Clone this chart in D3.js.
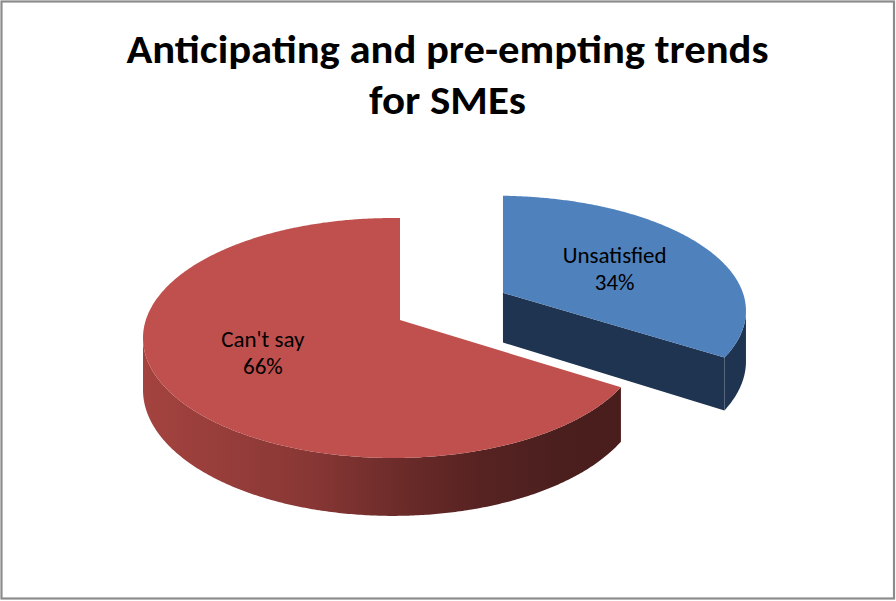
<!DOCTYPE html>
<html>
<head>
<meta charset="utf-8">
<script src="https://cdn.jsdelivr.net/npm/d3@7"></script>
<style>
  html, body { margin: 0; padding: 0; background: #fff; }
  svg { display: block; }
</style>
</head>
<body>
<svg id="chart" width="896" height="601"></svg>
<script>
// ---- data ----
const titleLines = ["Anticipating and pre-empting trends", "for SMEs"];
const categories = ["Unsatisfied", "Can't say"];
const values = [34, 66];
const explode = [0.47, 0];          // fraction of the radius each slice is pulled out
const topColors = ["#4F81BD", "#C0504D"];
const sideColors = ["#1F3450", "#6A2A28"];

// ---- layout ----
const W = 896, H = 601;
const svg = d3.select("#chart");

// frame
svg.append("rect")
  .attr("x", 1.5).attr("y", 1.5)
  .attr("width", W - 3.5).attr("height", H - 4)
  .attr("fill", "#fff")
  .attr("stroke", "#8c8c8c")
  .attr("stroke-width", 2.2);

// title
const title = svg.append("text")
  .attr("text-anchor", "middle")
  .attr("font-family", "Carlito, Calibri, Lato, sans-serif")
  .attr("font-weight", "bold")
  .attr("font-size", 41)
  .attr("fill", "#000");
const titleWidths = [642, 157];
title.selectAll("tspan").data(titleLines).join("tspan")
  .attr("x", 447.5)
  .attr("y", (d, i) => 63 + i * 51)
  .attr("textLength", (d, i) => titleWidths[i])
  .attr("lengthAdjust", "spacingAndGlyphs")
  .text(d => d);

// ---- 3D pie projection ----
const apex0 = [400, 320];           // projected pie centre
const ellOff = [-7, 18];            // centre of the rim ellipse relative to apex
const RX = 250, RY = 120;
const depth = y => 52 + (y - 340) * 0.05;   // wall height, shrinking with distance

const pie = d3.pie().sort(null).value(d => d)(values);
const total = d3.sum(values);
const pct = d3.format(".0%");

const slices = pie.map((p, i) => {
  const mid = (p.startAngle + p.endAngle) / 2;
  const e = explode[i];
  const dx = e * RX * Math.sin(mid), dy = -e * RY * Math.cos(mid);
  const A = [apex0[0] + dx, apex0[1] + dy];
  const E = [A[0] + ellOff[0], A[1] + ellOff[1]];
  const ry = RY * (1 + (E[1] - (apex0[1] + ellOff[1])) * 0.0015);
  return { i, a0: p.startAngle, a1: p.endAngle, mid, A, E, rx: RX, ry };
});

// point on the rim of a slice at pie angle th (0 = 12 o'clock, clockwise)
function rim(s, th) {
  const ux = (s.A[0] - s.E[0]) / s.rx, uy = (s.A[1] - s.E[1]) / s.ry;
  const vx = Math.sin(th), vy = -Math.cos(th);
  const b = ux * vx + uy * vy;
  const t = -b + Math.sqrt(b * b - (ux * ux + uy * uy) + 1);
  return [s.A[0] + t * vx * s.rx, s.A[1] + t * vy * s.ry];
}
const down = p => [p[0], p[1] + depth(p[1])];
function arcPts(s, a0, a1) {
  const n = Math.max(6, Math.ceil(Math.abs(a1 - a0) / (Math.PI / 360)));
  return d3.range(n + 1).map(k => rim(s, a0 + (a1 - a0) * k / n));
}
const line = d3.line();

// wall gradient for the large slice
const defs = svg.append("defs");
const grad = defs.append("linearGradient")
  .attr("id", "wallRed")
  .attr("gradientUnits", "userSpaceOnUse")
  .attr("x1", 143).attr("x2", 622).attr("y1", 0).attr("y2", 0);
[[0, "#a4433f"], [0.35, "#883735"], [0.54, "#6b2b29"], [0.7, "#572322"], [0.86, "#4c1f1f"], [1, "#4a1d1d"]]
  .forEach(([o, c]) => grad.append("stop").attr("offset", o).attr("stop-color", c));
const sliverGrad = defs.append("linearGradient")
  .attr("id", "sliverBlue").attr("x1", 0).attr("x2", 0).attr("y1", 0).attr("y2", 1);
sliverGrad.append("stop").attr("offset", 0).attr("stop-color", "#1f3450");
sliverGrad.append("stop").attr("offset", 1).attr("stop-color", "#2f5583");

const wallFill = i => i === 1 ? "url(#wallRed)" : sideColors[i];

// draw back slice first (the exploded one sits further away)
const order = [0, 1];
order.forEach(i => {
  const s = slices[i];
  const g = svg.append("g").attr("class", "slice-" + i);
  const Ad = down(s.A);

  // radial faces
  [[s.a0, -1], [s.a1, 1]].forEach(([a, side]) => {
    const P = rim(s, a);
    const facing = side * Math.sin(a);        // > 0 faces viewer
    if (facing < -1e-6) return;
    const edgeOn = Math.abs(Math.sin(a)) < 1e-6;
    g.append("path")
      .attr("d", line([s.A, P, down(P), Ad]) + "Z")
      .attr("fill", edgeOn ? (i === 0 ? "url(#sliverBlue)" : "#9a3b38") : sideColors[i]);
  });

  // outer wall: the near half of the rim
  const pts = arcPts(s, s.a0, s.a1).filter(p => p[1] >= s.E[1] - 0.5);
  if (pts.length > 1) {
    const bottom = pts.map(down).reverse();
    g.append("path")
      .attr("d", line(pts.concat(bottom)) + "Z")
      .attr("fill", wallFill(i));
  }

  // top face
  g.append("path")
    .attr("d", line([s.A].concat(arcPts(s, s.a0, s.a1))) + "Z")
    .attr("fill", topColors[i]);
});

// data labels
const labelFrac = [[0.51, 0.43], [0.626, 0.57]];   // [along x, along y] of the mid-angle radius
const labels = svg.append("g")
  .attr("font-family", "Carlito, Calibri, Lato, sans-serif")
  .attr("font-size", 23)
  .attr("fill", "#000")
  .attr("text-anchor", "middle");
slices.forEach(s => {
  const [fx, fy] = labelFrac[s.i];
  const x = s.A[0] + fx * s.rx * Math.sin(s.mid);
  const y = s.A[1] - fy * s.ry * Math.cos(s.mid);
  const t = labels.append("text");
  t.append("tspan").attr("x", x).attr("y", y - 6).text(categories[s.i]);
  t.append("tspan").attr("x", x).attr("y", y + 21).text(pct(values[s.i] / total));
});
</script>
</body>
</html>
